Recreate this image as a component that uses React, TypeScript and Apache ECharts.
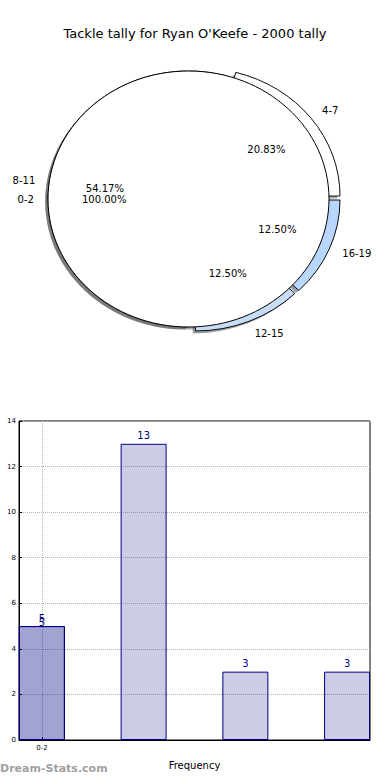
import React, { useEffect, useRef } from 'react';
import * as echarts from 'echarts';

// ---------- data ----------
const titleText = "Tackle tally for Ryan O'Keefe - 2000 tally";
const pieLabels = ['4-7', '8-11', '12-15', '16-19'];
const pieValues = [5, 13, 3, 3];
const fullPieLabels = ['0-2'];
const fullPieValues = [5];
const barPositions = [0, 1, 2, 3];
const barValues = [5, 13, 3, 3];
const firstBarPositions = [0];
const firstBarValues = [5];
const xTickValues = [0];
const xTickLabels = ['0-2'];
const xAxisTitle = 'Frequency';
const yAxisTitle = 'Statistic Tally';
const watermarkText = 'Dream-Stats.com';

// ---------- style ----------
const FONT = 'DejaVu Sans';
const CX = 188.5;
const CY = 199;
const RX = 140.5;
const RY = 128;
const sliceShift = [
  [11, -3],
  [0, 0],
  [7, 4],
  [11, 1],
];
const sliceColors = ['#ffffff', '#ffffff', '#c8dcf8', '#b9d6fc'];
const fullShift = [[0, 0]];
const fullColors = ['#ffffff'];

function darken(hex: string) {
  const r = parseInt(hex.slice(1, 3), 16);
  const g = parseInt(hex.slice(3, 5), 16);
  const b = parseInt(hex.slice(5, 7), 16);
  return `rgba(${Math.round(r * 0.3)},${Math.round(g * 0.3)},${Math.round(b * 0.3)},0.5)`;
}

function makePieRender(values: number[], labels: string[], colors: string[], shifts: number[][], wedgeZ: number) {
  const total = values.reduce((a, b) => a + b, 0);
  return (params: any, api: any) => {
    const i = params.dataIndex;
    const v = api.value(0);
    let before = 0;
    for (let k = 0; k < i; k++) before += values[k];
    const frac = v / total;
    const t1 = (before / total) * 2 * Math.PI;
    const t2 = t1 + frac * 2 * Math.PI;
    const mid = (t1 + t2) / 2;
    const ox = CX + shifts[i][0];
    const oy = CY + shifts[i][1];
    const full = frac > 0.9999;
    const mk = (x: number, y: number, fill: string, stroke: string | null, z2: number) =>
      full
        ? {
            type: 'ellipse',
            x,
            y,
            z2,
            shape: { cx: 0, cy: 0, rx: RX, ry: RY },
            style: { fill, stroke: stroke || 'none', lineWidth: 1 },
          }
        : {
            type: 'sector',
            x,
            y,
            scaleY: RY / RX,
            z2,
            shape: { cx: 0, cy: 0, r: RX, r0: 0, startAngle: -t1, endAngle: -t2, clockwise: false },
            style: { fill, stroke: stroke || 'none', lineWidth: 1, strokeNoScale: true },
          };
    const c = Math.cos(mid);
    const s = Math.sin(mid);
    return {
      type: 'group',
      children: [
        mk(ox - 0.02 * RX, oy + 0.02 * RY, darken(colors[i]), null, 0),
        mk(ox, oy, colors[i], '#000000', wedgeZ),
        {
          type: 'text',
          z2: 20,
          style: {
            x: ox + 1.1 * RX * c,
            y: oy - 1.1 * RY * s,
            text: labels[i],
            align: c > 0 ? 'left' : 'right',
            verticalAlign: 'middle',
            fontSize: 10,
            fontFamily: FONT,
            fill: '#000',
          },
        },
        {
          type: 'text',
          z2: 20,
          style: {
            x: ox + 0.6 * RX * c,
            y: oy - 0.6 * RY * s,
            text: (frac * 100).toFixed(2) + '%',
            align: 'center',
            verticalAlign: 'middle',
            fontSize: 10,
            fontFamily: FONT,
            fill: '#000',
          },
        },
      ],
    };
  };
}

export default function App() {
  const ref = useRef<HTMLDivElement>(null);
  useEffect(() => {
    document.body.style.margin = '0';
    if (!ref.current) return;
    const chart = echarts.init(ref.current, null, { renderer: 'svg' });
    const barFill = 'rgba(0,0,128,0.2)';
    const navy = '#000080';
    const gridLine = { type: 'dotted', color: '#b4b4b4', width: 1 };
    chart.setOption({
      animation: false,
      backgroundColor: '#ffffff',
      textStyle: { fontFamily: FONT },
      title: {
        text: titleText,
        left: 'center',
        top: 22,
        textStyle: { fontSize: 13, fontWeight: 'normal', color: '#000', fontFamily: FONT },
      },
      graphic: [
        {
          type: 'text',
          left: 0,
          top: 763,
          style: {
            text: watermarkText,
            fill: '#a0a0a0',
            fontSize: 11,
            fontWeight: 'bold',
            fontFamily: FONT,
          },
        },
      ],
      grid: {
        left: 19,
        right: 20,
        top: 421,
        bottom: 40,
        containLabel: false,
        outerBoundsMode: 'none',
        show: true,
        borderColor: '#000',
        borderWidth: 1,
        backgroundColor: 'transparent',
      },
      xAxis: {
        type: 'value',
        min: -0.225,
        max: 3.225,
        name: xAxisTitle,
        nameLocation: 'middle',
        nameGap: 20,
        nameTextStyle: { fontSize: 10, color: '#000', fontFamily: FONT },
        axisLine: { show: true, onZero: false, lineStyle: { color: '#000' } },
        axisTick: { show: true, inside: true, length: 3, customValues: xTickValues, lineStyle: { color: '#000' } },
        axisLabel: {
          show: true,
          customValues: xTickValues,
          formatter: (v: number) => {
            const idx = xTickValues.indexOf(v);
            return idx >= 0 ? xTickLabels[idx] : '';
          },
          fontSize: 7,
          color: '#000',
          margin: 4,
        },
        splitLine: { show: true, customValues: xTickValues, lineStyle: gridLine },
      },
      yAxis: {
        type: 'value',
        min: 0,
        max: 14,
        interval: 2,
        name: yAxisTitle,
        nameLocation: 'middle',
        nameGap: 16,
        nameTextStyle: { fontSize: 10, color: '#000', fontFamily: FONT },
        axisLine: { show: true, onZero: false, lineStyle: { color: '#000' } },
        axisTick: { show: true, inside: true, length: 3, lineStyle: { color: '#000' } },
        axisLabel: { fontSize: 7, color: '#000', margin: 3 },
        splitLine: { show: true, lineStyle: gridLine },
      },
      series: [
        {
          type: 'custom',
          coordinateSystem: 'none',
          silent: true,
          renderItem: makePieRender(pieValues, pieLabels, sliceColors, sliceShift, 1),
          data: pieValues.map((v, i) => ({ name: pieLabels[i], value: [v] })),
        },
        {
          type: 'custom',
          coordinateSystem: 'none',
          silent: true,
          renderItem: makePieRender(fullPieValues, fullPieLabels, fullColors, fullShift, 2),
          data: fullPieValues.map((v, i) => ({ name: fullPieLabels[i], value: [v] })),
        },
        {
          type: 'bar',
          name: fullPieLabels[0],
          barWidth: 46,
          barGap: '-100%',
          data: firstBarValues.map((v, i) => [firstBarPositions[i], v]),
          itemStyle: { color: barFill, borderColor: navy, borderWidth: 1 },
          label: { show: true, position: 'top', distance: -1, color: navy, fontSize: 10, fontFamily: FONT },
        },
        {
          type: 'bar',
          name: 'Tally',
          barWidth: 46,
          barGap: '-100%',
          data: barValues.map((v, i) => [barPositions[i], v]),
          itemStyle: { color: barFill, borderColor: navy, borderWidth: 1 },
          label: { show: true, position: 'top', distance: 3, color: navy, fontSize: 10, fontFamily: FONT },
        },
      ],
    });
    return () => chart.dispose();
  }, []);
  return <div ref={ref} style={{ width: 390, height: 780 }} />;
}
